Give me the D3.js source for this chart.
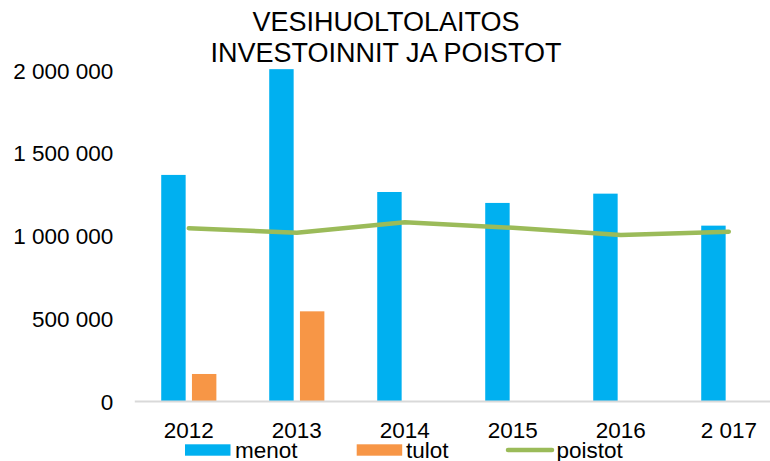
<!DOCTYPE html>
<html>
<head>
<meta charset="utf-8">
<script src="https://cdn.jsdelivr.net/npm/d3@7"></script>
<style>
  html, body { margin: 0; padding: 0; background: #fff; }
  svg { display: block; font-family: "Liberation Sans", Arial, sans-serif; }
</style>
</head>
<body>
<svg id="chart" width="770" height="461"></svg>
<script>
// Water utility: investments (menot / tulot) and depreciation (poistot) per year
const years = ["2012", "2013", "2014", "2015", "2016", "2 017"];
const menot = [1367000, 2005000, 1264000, 1198000, 1254000, 1061000];
const tulot = [166000, 544000, null, null, null, null];
const poistot = [1045000, 1018000, 1081000, 1048000, 1005000, 1024000];
const yTicks = [0, 500000, 1000000, 1500000, 2000000];
const titleLines = ["VESIHUOLTOLAITOS", "INVESTOINNIT JA POISTOT"];
const seriesNames = ["menot", "tulot", "poistot"];
const colors = { menot: "#00B0F0", tulot: "#F79646", poistot: "#9BBB59" };

const svg = d3.select("#chart");
const plot = { left: 134.8, right: 782.8, top: 70, bottom: 401.5 };

const x0 = d3.scaleBand().domain(years).range([plot.left, plot.right]).padding(0);
const x1 = d3.scaleBand().domain(["menot", "tulot"]).range([0, x0.bandwidth()])
  .paddingInner(0.205).paddingOuter(0.86);
const y = d3.scaleLinear().domain([0, 2000000]).range([plot.bottom, plot.top]);

// thousands separated by spaces
const fmt = v => d3.format(",")(v).replace(/,/g, " ");

// title
svg.append("g").selectAll("text").data(titleLines).join("text")
  .attr("x", 386).attr("y", (d, i) => 30.7 + i * 31)
  .attr("text-anchor", "middle").attr("font-size", 27).attr("fill", "#000")
  .text(d => d);

// y axis labels (no axis line)
const yAxis = d3.axisLeft(y).tickValues(yTicks).tickFormat(fmt).tickSize(0).tickPadding(0);
const gy = svg.append("g").attr("transform", "translate(113.3,0)").call(yAxis);
gy.select(".domain").remove();
gy.selectAll("text").attr("font-size", 22.5).attr("fill", "#000")
  .attr("font-family", "'Liberation Sans', Arial, sans-serif").attr("dy", "0.36em");

// bars
const rows = years.map((yr, i) => ({ yr, menot: menot[i], tulot: tulot[i] }));
const groups = svg.append("g").selectAll("g").data(rows).join("g")
  .attr("transform", d => `translate(${x0(d.yr)},0)`);
groups.selectAll("rect")
  .data(d => ["menot", "tulot"].filter(k => d[k] != null).map(k => ({ k, v: d[k] })))
  .join("rect")
  .attr("x", d => x1(d.k)).attr("width", x1.bandwidth())
  .attr("y", d => y(d.v)).attr("height", d => y(0) - y(d.v))
  .attr("fill", d => colors[d.k]);

// baseline
svg.append("line")
  .attr("x1", plot.left).attr("x2", 770).attr("y1", y(0)).attr("y2", y(0))
  .attr("stroke", "#D9D9D9").attr("stroke-width", 2);

// depreciation line
const line = d3.line().x((d, i) => x0(years[i]) + x0.bandwidth() / 2).y(d => y(d));
svg.append("path").datum(poistot).attr("d", line)
  .attr("fill", "none").attr("stroke", colors.poistot).attr("stroke-width", 4.5)
  .attr("stroke-linecap", "round").attr("stroke-linejoin", "round");

// x axis labels
const xAxis = d3.axisBottom(x0).tickSize(0).tickPadding(0);
const gx = svg.append("g").attr("transform", "translate(0,438.3)").call(xAxis);
gx.select(".domain").remove();
gx.selectAll("text").attr("font-size", 22.5).attr("fill", "#000")
  .attr("font-family", "'Liberation Sans', Arial, sans-serif").attr("dy", 0);

// legend
const legendX = [185, 356.7, 506];
const legend = svg.append("g").selectAll("g").data(seriesNames).join("g")
  .attr("transform", (d, i) => `translate(${legendX[i]},450)`);
legend.filter(d => d !== "poistot").append("rect")
  .attr("x", 0).attr("y", -5.7).attr("width", 45.5).attr("height", 11.4)
  .attr("fill", d => colors[d]);
legend.filter(d => d === "poistot").append("line")
  .attr("x1", 2).attr("x2", 46).attr("y1", 0).attr("y2", 0)
  .attr("stroke", d => colors[d]).attr("stroke-width", 4.5).attr("stroke-linecap", "round");
legend.append("text")
  .attr("x", d => d === "poistot" ? 50.5 : (d === "tulot" ? 49.3 : 50))
  .attr("y", 7.7).attr("font-size", 22.5).attr("fill", "#000")
  .text(d => d);
</script>
</body>
</html>
